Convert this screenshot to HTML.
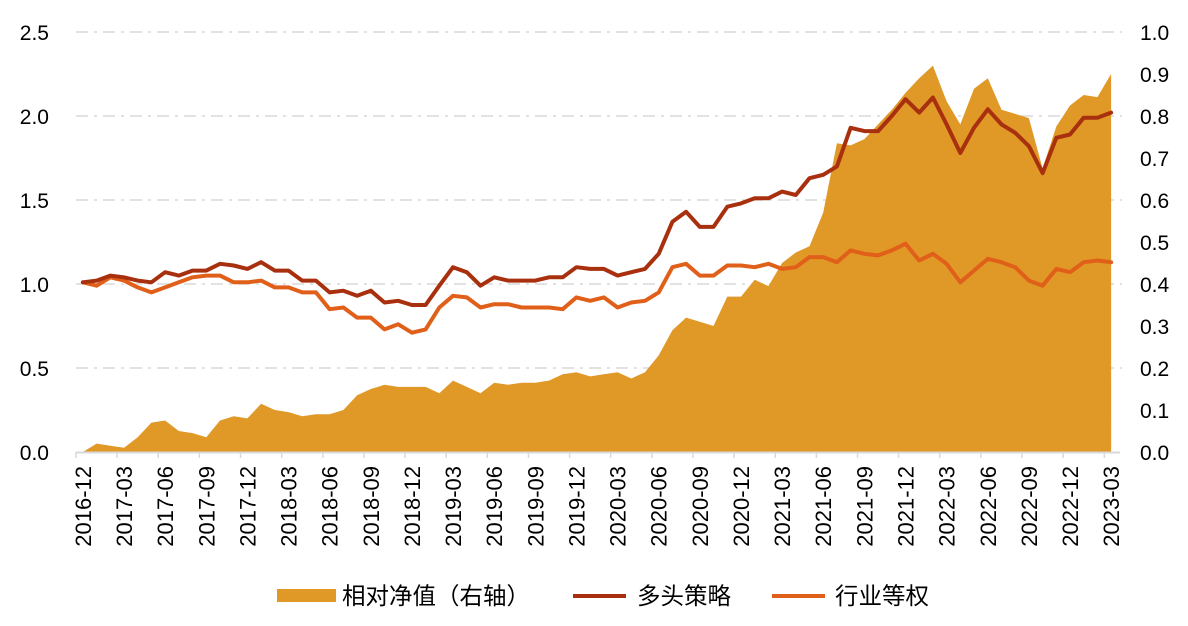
<!DOCTYPE html>
<html><head><meta charset="utf-8"><style>
body{margin:0;background:#fff;width:1188px;height:621px;overflow:hidden;font-family:"Liberation Sans","Noto Sans CJK SC",sans-serif}
svg text{font-family:"Liberation Sans","Noto Sans CJK SC",sans-serif;fill:#000}
</style></head><body>
<svg id="chart" width="1188" height="621" xmlns="http://www.w3.org/2000/svg">
<g id="grid"></g>
<g id="area"></g>
<g id="lines"></g>
<g id="axes"></g>
<g id="legend">
<rect x="277" y="589" width="59" height="13" fill="#E09826"/>
<text x="342" y="604" font-size="23.5">相对净值（右轴）</text>
<line x1="573" y1="596" x2="626" y2="596" stroke="#A8300F" stroke-width="4"/>
<text x="637" y="604" font-size="23.5">多头策略</text>
<line x1="772" y1="596" x2="825" y2="596" stroke="#E0601A" stroke-width="4"/>
<text x="835" y="604" font-size="23.5">行业等权</text>
</g>
</svg>
<script>
const longStrategy=[1.01,1.02,1.05,1.04,1.02,1.01,1.07,1.05,1.08,1.08,1.12,1.11,1.09,1.13,1.08,1.08,1.02,1.02,0.95,0.96,0.93,0.96,0.89,0.90,0.875,0.875,0.99,1.10,1.07,0.99,1.04,1.02,1.02,1.02,1.04,1.04,1.10,1.09,1.09,1.05,1.07,1.09,1.18,1.37,1.43,1.34,1.34,1.46,1.48,1.51,1.51,1.55,1.53,1.63,1.65,1.70,1.93,1.91,1.91,2.00,2.10,2.02,2.11,1.95,1.78,1.93,2.04,1.95,1.90,1.82,1.66,1.87,1.89,1.99,1.99,2.02];
const industryEqual=[1.01,0.99,1.04,1.02,0.98,0.95,0.98,1.01,1.04,1.05,1.05,1.01,1.01,1.02,0.98,0.98,0.95,0.95,0.85,0.86,0.80,0.80,0.73,0.76,0.71,0.73,0.86,0.93,0.92,0.86,0.88,0.88,0.86,0.86,0.86,0.85,0.92,0.90,0.92,0.86,0.89,0.90,0.95,1.10,1.12,1.05,1.05,1.11,1.11,1.10,1.12,1.09,1.10,1.16,1.16,1.13,1.20,1.18,1.17,1.20,1.24,1.14,1.18,1.12,1.01,1.08,1.15,1.13,1.10,1.02,0.99,1.09,1.07,1.13,1.14,1.13];
const relativeNav=[0.00,0.02,0.015,0.01,0.035,0.07,0.075,0.05,0.045,0.035,0.075,0.085,0.08,0.115,0.10,0.095,0.085,0.09,0.09,0.10,0.135,0.15,0.16,0.155,0.155,0.155,0.14,0.17,0.155,0.14,0.165,0.16,0.165,0.165,0.17,0.185,0.19,0.18,0.185,0.19,0.175,0.19,0.23,0.29,0.32,0.31,0.30,0.37,0.37,0.41,0.395,0.45,0.475,0.49,0.57,0.735,0.73,0.745,0.78,0.815,0.855,0.89,0.92,0.835,0.78,0.865,0.89,0.815,0.805,0.795,0.675,0.775,0.825,0.85,0.845,0.90];
const leftTicks=[0,0.5,1,1.5,2,2.5];
const rightTicks=[0,0.1,0.2,0.3,0.4,0.5,0.6,0.7,0.8,0.9,1.0];
const startYear=2016,startMonth=12;
const NS="http://www.w3.org/2000/svg";
const n=longStrategy.length;
const x0=76,x1=1118,yBase=452,yTop=32;
const step=(x1-x0)/n;
function xPos(i){return x0+step*(i+0.5);}
function yL(v){return yBase-(v/2.5)*(yBase-yTop);}
function yR(v){return yBase-(v/1.0)*(yBase-yTop);}
function mk(tag,attrs,parent){const e=document.createElementNS(NS,tag);for(const k in attrs)e.setAttribute(k,attrs[k]);parent.appendChild(e);return e;}
function lbl(i){let m=startMonth-1+i;let y=startYear+Math.floor(m/12);m=m%12+1;return y+'-'+(m<10?'0'+m:m);}
const grid=document.getElementById('grid');
leftTicks.forEach(v=>{if(v===0)return;
 const g=mk('line',{x1:x0,x2:1122,y1:yL(v),y2:yL(v),stroke:'#d9d9d9','stroke-width':1.5,'stroke-dasharray':'12,6,3,6'},grid);
 
 
});
const axes=document.getElementById('axes');
leftTicks.forEach(v=>{
 const t=mk('text',{x:49,y:yL(v)+8,'text-anchor':'end','font-size':21},axes);t.textContent=v.toFixed(1);
 
 
});
rightTicks.forEach(v=>{
 const t=mk('text',{x:1140,y:yR(v)+8,'font-size':21},axes);t.textContent=v.toFixed(1);
 
 
});
const ax=mk('line',{x1:x0,x2:x1+2,y1:yBase+0.5,y2:yBase+0.5,stroke:'#d9d9d9','stroke-width':2},axes);


for(let i=0;i<n;i+=3){
 const tx=x0+step*i;
 const tk=mk('line',{x1:tx,x2:tx,y1:yBase,y2:yBase+6,stroke:'#d9d9d9','stroke-width':1.5},axes);
 
 
 const cx=xPos(i);
 const t=mk('text',{x:0,y:0,'text-anchor':'end','font-size':22,transform:'translate('+(cx+8)+',466) rotate(-90)'},axes);
 t.textContent=lbl(i);
 
 
}
const ag=document.getElementById('area');
let d='M'+xPos(0)+','+yBase;
relativeNav.forEach((v,i)=>{d+=' L'+xPos(i).toFixed(1)+','+yR(v).toFixed(1);});
d+=' L'+xPos(n-1)+','+yBase+' Z';
const ap=mk('path',{d:d,fill:'#E09826'},ag);


const lg=document.getElementById('lines');
function line(arr,color,name){
 const pts=arr.map((v,i)=>xPos(i).toFixed(1)+','+yL(v).toFixed(1)).join(' ');
 const p=mk('polyline',{points:pts,fill:'none',stroke:color,'stroke-width':4,'stroke-linejoin':'round','stroke-linecap':'round'},lg);
 
 
}
line(industryEqual,'#E0601A','industry-equal-line');
line(longStrategy,'#A8300F','long-strategy-line');
</script>
</body></html>
